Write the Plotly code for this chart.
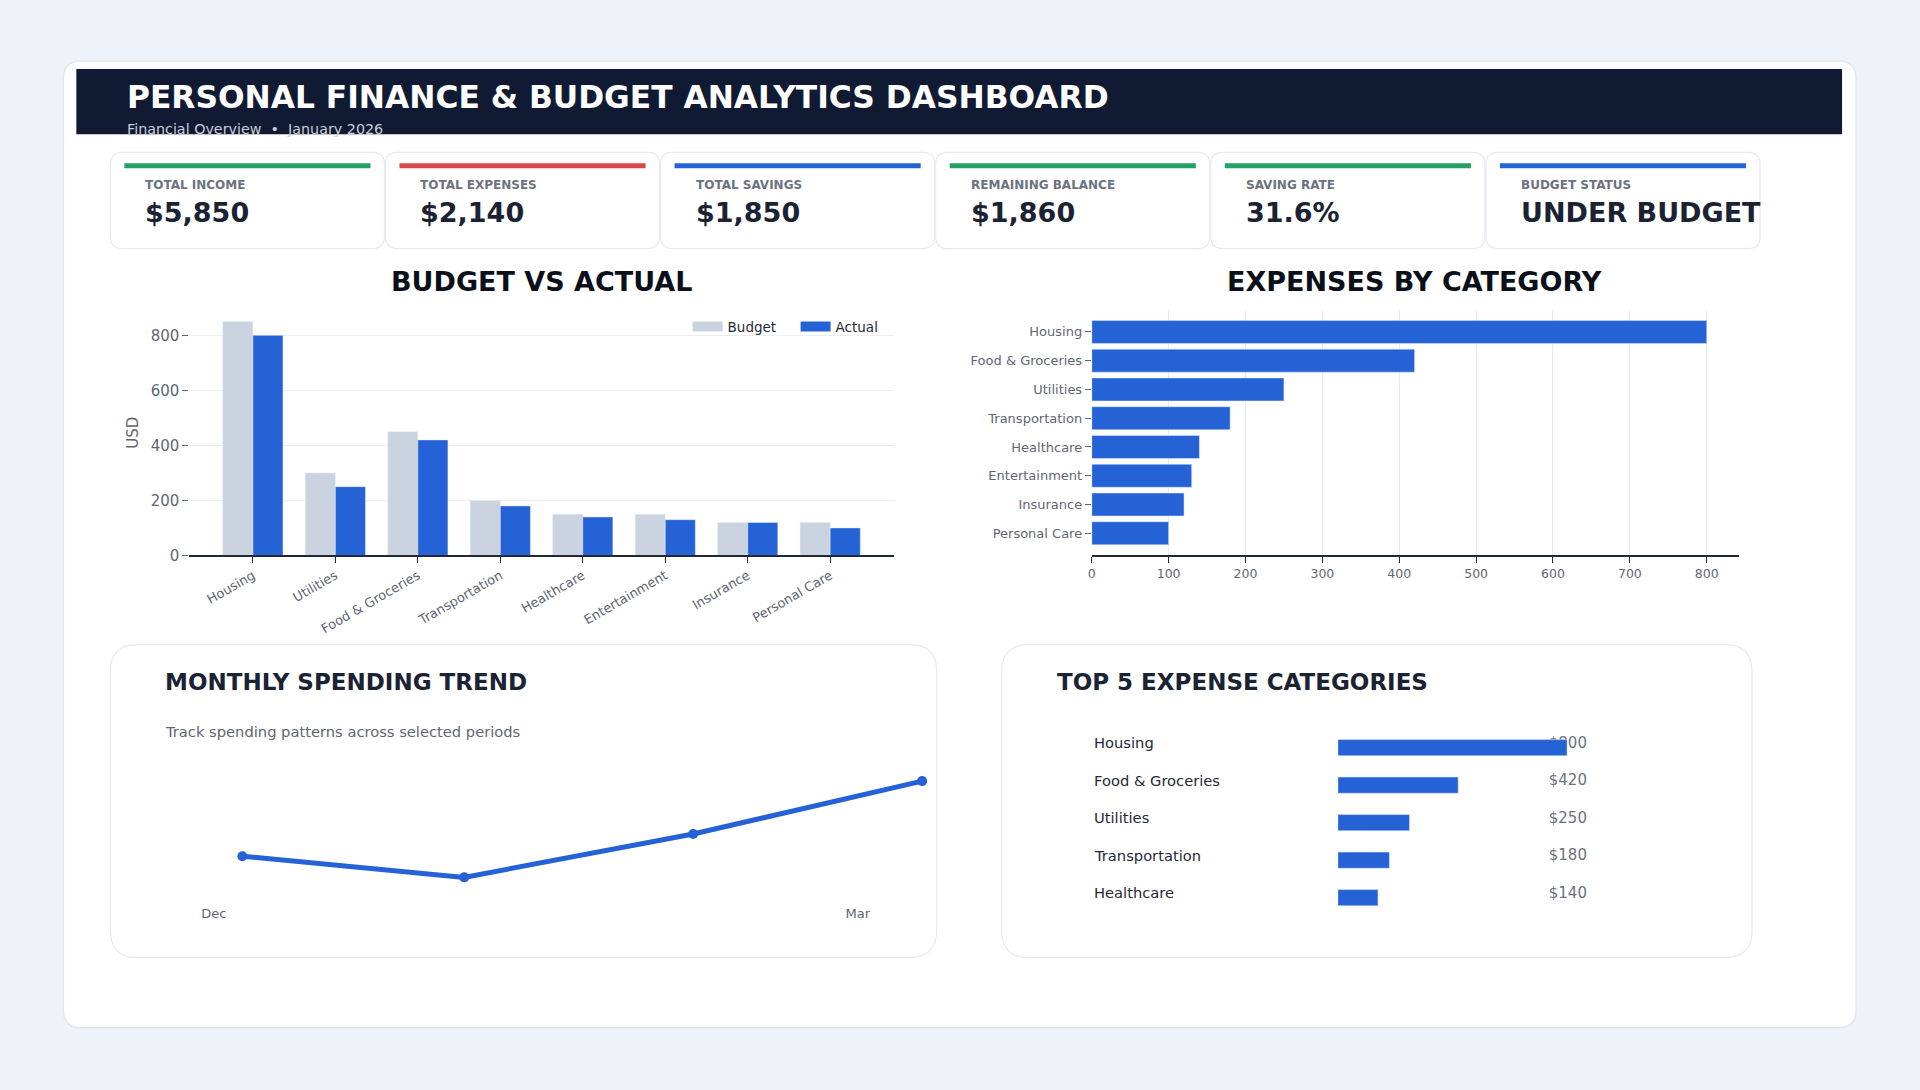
import plotly.graph_objects as go

W, H = 1920, 1090

# ---- data ----
categories = ["Housing", "Utilities", "Food & Groceries", "Transportation",
              "Healthcare", "Entertainment", "Insurance", "Personal Care"]
budget = [850, 300, 450, 200, 150, 150, 120, 120]
actual = [800, 250, 420, 180, 140, 130, 120, 100]

kpi_labels = ["TOTAL INCOME", "TOTAL EXPENSES", "TOTAL SAVINGS",
              "REMAINING BALANCE", "SAVING RATE", "BUDGET STATUS"]
kpi_values = ["$5,850", "$2,140", "$1,850", "$1,860", "31.6%", "UNDER BUDGET"]
kpi_colors = ["#22a065", "#d94848", "#2462d6", "#22a065", "#22a065", "#2462d6"]

trend_dates = ["2025-12-05", "2026-01-05", "2026-02-06", "2026-03-10"]
trend_spend = [1960, 1860, 2065, 2315]

BLUE = "#2462d6"
GREY_BAR = "#cbd3e0"
DARK = "#1a2233"
MUTED = "#5f6673"
FONT = "DejaVu Sans"

# expenses sorted high -> low
ranked = sorted(zip(actual, categories), reverse=True)
exp_values = [v for v, c in ranked]
exp_names = [c for v, c in ranked]
top5_values = exp_values[:5]
top5_names = exp_names[:5]


# layout positions are measured in pixels; small correction so the render lines up
def X(v):
    return (v * 1.0025 - 4.7) / W


def Y(v):
    return 1 - (v * 1.0111 - 1.1) / H


def rrect(x0, y0, x1, y1, r, fill, line="#e6e9ee", lw=1.2):
    p = (f"M{X(x0 + r)},{Y(y0)} L{X(x1 - r)},{Y(y0)} Q{X(x1)},{Y(y0)} {X(x1)},{Y(y0 + r)} "
         f"L{X(x1)},{Y(y1 - r)} Q{X(x1)},{Y(y1)} {X(x1 - r)},{Y(y1)} L{X(x0 + r)},{Y(y1)} "
         f"Q{X(x0)},{Y(y1)} {X(x0)},{Y(y1 - r)} L{X(x0)},{Y(y0 + r)} Q{X(x0)},{Y(y0)} {X(x0 + r)},{Y(y0)} Z")
    return dict(type="path", xref="paper", yref="paper", path=p, fillcolor=fill,
                line=dict(color=line, width=lw), layer="below")


def rect(x0, y0, x1, y1, fill):
    return dict(type="rect", xref="paper", yref="paper", x0=X(x0), x1=X(x1), y0=Y(y1), y1=Y(y0),
                fillcolor=fill, line=dict(width=0), layer="below")


def text(x, y, s, size, color=DARK, anchor="left", bold=False):
    return dict(xref="paper", yref="paper", x=X(x), y=Y(y), text=f"<b>{s}</b>" if bold else s,
                showarrow=False, xanchor=anchor, yanchor="middle",
                font=dict(family=FONT, size=size, color=color))


fig = go.Figure()

# budget vs actual (legend shown through wide swatches below)
fig.add_trace(go.Bar(x=categories, y=budget, name="Budget", marker_color=GREY_BAR,
                     showlegend=False, xaxis="x", yaxis="y"))
fig.add_trace(go.Bar(x=categories, y=actual, name="Actual", marker_color=BLUE,
                     showlegend=False, xaxis="x", yaxis="y"))
for name, col in [("Budget", GREY_BAR), ("Actual", BLUE)]:
    fig.add_trace(go.Scatter(x=[None], y=[None], mode="lines", name=name,
                             line=dict(color=col, width=10), xaxis="x", yaxis="y"))

# expenses by category
fig.add_trace(go.Bar(x=exp_values, y=exp_names, orientation="h", marker_color=BLUE,
                     width=0.8, showlegend=False, xaxis="x2", yaxis="y2"))

# monthly trend
fig.add_trace(go.Scatter(x=trend_dates, y=trend_spend, mode="lines+markers",
                         line=dict(color=BLUE, width=5), marker=dict(size=10, color=BLUE),
                         showlegend=False, xaxis="x3", yaxis="y3"))

# top 5
fig.add_trace(go.Bar(x=top5_values, y=top5_names, orientation="h", marker_color=BLUE,
                     width=0.43, showlegend=False, xaxis="x4", yaxis="y4"))

shapes = [
    rrect(64, 62, 1856, 1026, 18, "white", "#e3e7ee", 1.5),
    rect(77, 70, 1842, 135, "#111a33"),
    rrect(111, 644, 937, 956, 27, "white"),
    rrect(1002, 644, 1752, 956, 27, "white"),
]
annotations = [
    text(126, 98, "PERSONAL FINANCE &amp; BUDGET ANALYTICS DASHBOARD", 31.3, "white", bold=True),
    text(126, 130, "Financial Overview  •  January 2026", 14.3, "#c9ced8"),
    text(542, 282, "BUDGET VS ACTUAL", 27, "#0b0f19", "center", True),
    text(1415, 282, "EXPENSES BY CATEGORY", 27, "#0b0f19", "center", True),
    text(164, 681, "MONTHLY SPENDING TREND", 23, DARK, bold=True),
    text(164, 731, "Track spending patterns across selected periods", 14.7, MUTED),
    text(1055, 681, "TOP 5 EXPENSE CATEGORIES", 23, DARK, bold=True),
]

for i, (lab, val, col) in enumerate(zip(kpi_labels, kpi_values, kpi_colors)):
    x0 = 111 + 275 * i
    x1 = x0 + 274
    shapes.append(rrect(x0, 153, x1, 249, 12, "white"))
    shapes.append(rect(x0 + 14, 164, x1 - 14, 169, col))
    annotations.append(text(x0 + 33, 186, lab, 12, "#6b7280", bold=True))
    annotations.append(text(x0 + 33, 213, val, 27, DARK, bold=True))

for name in top5_names:
    annotations.append(dict(xref="paper", yref="y4", x=X(1092), y=name, text=name,
                            showarrow=False, xanchor="left", yanchor="middle", yshift=5,
                            font=dict(family=FONT, size=14.7, color="#1f2937")))

tick_font = dict(family=FONT, size=13, color=MUTED)

fig.update_layout(
    width=W, height=H,
    margin=dict(l=0, r=0, t=0, b=0),
    paper_bgcolor="#eef2f9",
    plot_bgcolor="rgba(0,0,0,0)",
    font=dict(family=FONT, color=MUTED),
    barmode="group", bargap=0.27, bargroupgap=0,
    shapes=shapes,
    annotations=annotations,
    legend=dict(orientation="h", x=X(688), xanchor="left", y=Y(327), yanchor="middle",
                bgcolor="rgba(0,0,0,0)", itemwidth=30, entrywidth=63, entrywidthmode="pixels",
                font=dict(family=FONT, size=13.5, color="#1f2937")),
    xaxis=dict(domain=[X(190), X(894)], anchor="y", type="category",
               categoryorder="array", categoryarray=categories, range=[-0.77, 7.77],
               tickangle=-30, tickfont=tick_font, showline=True, linecolor="#1f2937",
               linewidth=1.5, ticks="outside", ticklen=6, tickcolor="#1f2937", showgrid=False),
    yaxis=dict(domain=[Y(555), Y(310)], anchor="x", range=[0, 893], tickvals=[0, 200, 400, 600, 800],
               tickfont=dict(family=FONT, size=15, color=MUTED), ticks="outside", ticklen=6,
               tickcolor=MUTED, gridcolor="#eceef2", zeroline=False,
               title=dict(text="USD", font=dict(family=FONT, size=15, color=MUTED), standoff=8)),
    xaxis2=dict(domain=[X(1092), X(1739)], anchor="y2", range=[0, 842], dtick=100,
                tickfont=dict(family=FONT, size=12.5, color=MUTED), showline=True,
                linecolor="#1f2937", linewidth=1.5, ticks="outside", ticklen=6,
                tickcolor="#1f2937", gridcolor="#e9ebef", zeroline=False),
    yaxis2=dict(domain=[Y(555), Y(310)], anchor="x2", type="category", categoryorder="array",
                categoryarray=exp_names[::-1], range=[-0.77, 7.77], tickfont=tick_font,
                ticks="outside", ticklen=6, tickcolor=MUTED, showgrid=False),
    xaxis3=dict(domain=[X(150), X(940)], anchor="y3", type="date",
                range=["2025-11-22", "2026-03-12 11:00"], tick0="2025-12-01", dtick="M3",
                tickformat="%b", tickfont=tick_font, ticklabelstandoff=5, showgrid=False,
                showline=False, zeroline=False),
    yaxis3=dict(domain=[Y(898), Y(760)], anchor="x3", range=[1756, 2410], visible=False),
    xaxis4=dict(domain=[X(1338), X(1590)], anchor="y4", range=[0, 880], showgrid=False,
                showticklabels=False, zeroline=False, showline=False),
    yaxis4=dict(domain=[Y(915), Y(728)], anchor="x4", type="category", categoryorder="array",
                categoryarray=top5_names[::-1], range=[-0.5, 4.5], side="right",
                ticklabelposition="inside", tickmode="array", tickvals=top5_names,
                ticktext=[f"${v}" for v in top5_values], ticklabelshift=-5,
                layer="below traces", showgrid=False, showline=False, ticks="",
                tickfont=dict(family=FONT, size=15, color="#6b7280")),
)

fig.write_html("out.html", config={"displayModeBar": False},
               post_script="document.body.style.margin='0';document.body.style.overflow='hidden';")
